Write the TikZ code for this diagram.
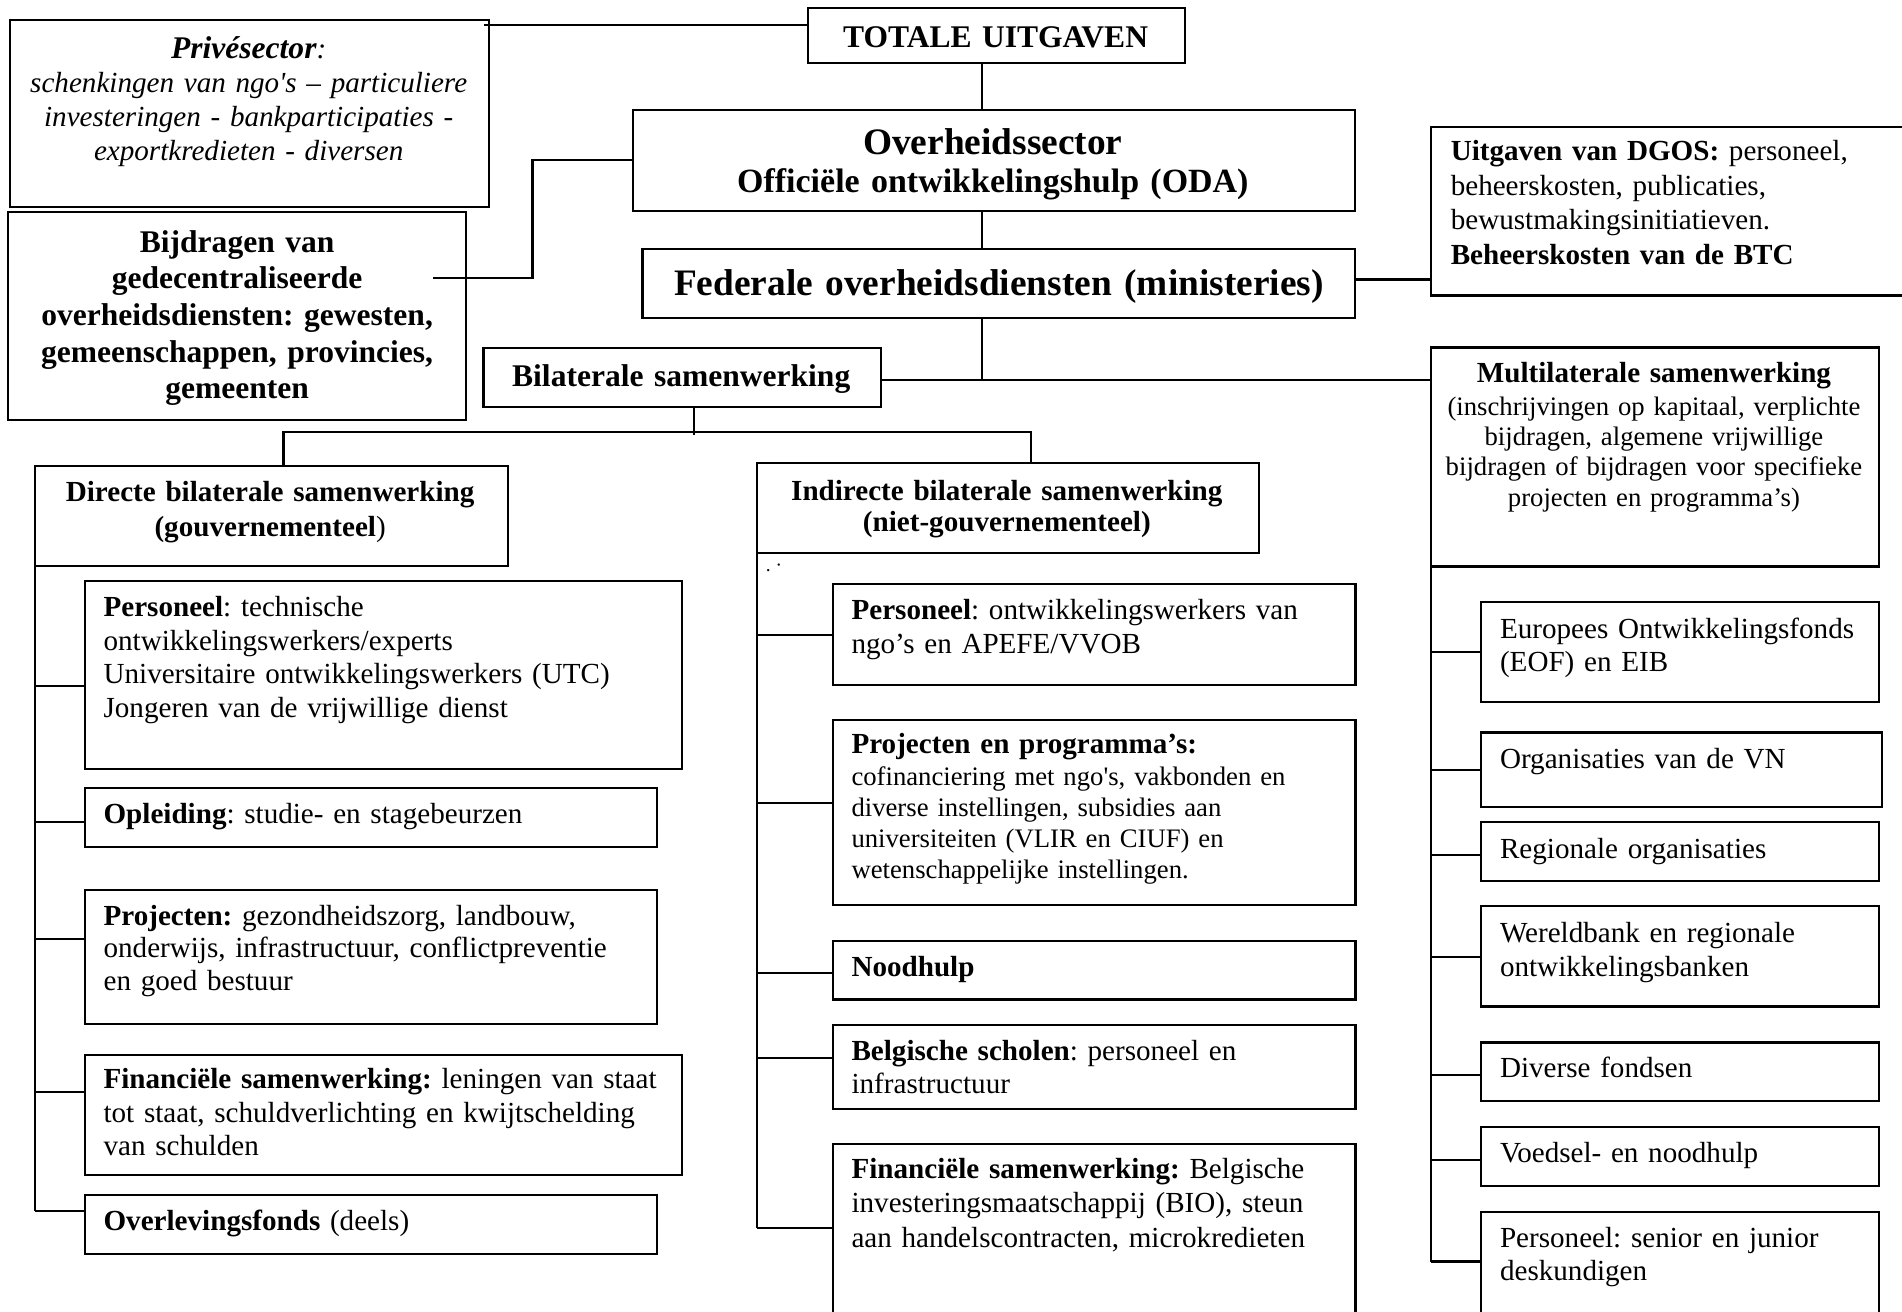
\documentclass[tikz,border=0pt]{standalone}
\usepackage{fontspec}
\setmainfont{Liberation Serif}
\usetikzlibrary{calc}
\newcommand\fsz[2]{\fontsize{#1}{#2}\selectfont}
\newcommand\bx[5]{\node[boxst, minimum width={(#4-#2)*0.5pt}, minimum height={(#5-#3)*0.5pt}] (#1) at (#2,#3) {};}
\tikzset{
  boxst/.style={draw, line width=0.9pt, inner sep=0pt, outer sep=0pt, anchor=north west},
  con/.style={line width=0.9pt},
  lt/.style={inner sep=0pt, outer sep=0pt, anchor=base west, align=left, text width=320pt, execute at begin node=\frenchspacing},
  ct/.style={inner sep=0pt, outer sep=0pt, anchor=base, align=center, text width=#1, execute at begin node=\frenchspacing},
}
\begin{document}
\frenchspacing
\begin{tikzpicture}[x=0.5pt, y=-0.5pt]
\useasboundingbox (0,0) rectangle (1568,1081);
\clip (0,0) rectangle (1568,1081);
% boxes
\bx{priv}{8.2}{16.5}{403.3}{170.4}
\bx{bij}{6.6}{174.5}{383.9}{346.2}
\bx{tot}{665.8}{6.9}{976.8}{52.2}
\bx{ov}{521.5}{90.7}{1117.2}{173.7}
\bx{fed}{529.6}{205.3}{1117.2}{262.4}
\bx{uit}{1179.6}{104.8}{1620}{243.6}
\bx{bil}{398.6}{286.6}{726.5}{335.3}
\bx{mul}{1179.6}{286.5}{1548.8}{467}
\bx{dir}{28.7}{384.2}{418.5}{466.6}
\bx{ind}{624}{381.5}{1038}{456}
\bx{dp}{69.9}{479}{562}{634}
\bx{dop}{69.9}{649.9}{541.7}{698.5}
\bx{dpr}{69.9}{733.7}{541.7}{844}
\bx{dfi}{69.9}{869.7}{562}{968.7}
\bx{dov}{69.9}{985}{541.7}{1034}
\bx{ip}{686.4}{481.6}{1117.4}{564.7}
\bx{ipr}{686.4}{593.6}{1117.4}{746}
\bx{ino}{686.4}{775.5}{1117.4}{823.9}
\bx{ibe}{686.4}{845.3}{1117.4}{914.3}
\bx{ifi}{686.4}{942.8}{1117.4}{1120}
\bx{meo}{1220.7}{496.2}{1549}{578.8}
\bx{mvn}{1220.7}{603.8}{1551.3}{665.3}
\bx{mre}{1220.7}{677.6}{1549}{726.5}
\bx{mwb}{1220.7}{747.2}{1549}{829.8}
\bx{mdi}{1220.7}{859.4}{1549}{907.8}
\bx{mvo}{1220.7}{929}{1549}{977.8}
\bx{mpe}{1220.7}{998.9}{1549}{1120}
% texts
\node[ct=200pt, font=\fsz{12}{14}\itshape] (privt) at (205,48.5) {{\bfseries\fsz{13}{14}Privésector}:\\schenkingen van ngo\textquotesingle s – particuliere\\investeringen - bankparticipaties -\\exportkredieten - diversen};
\node[ct=200pt, font=\fsz{13}{15.1}\bfseries] (bijt) at (195.5,208) {Bijdragen van\\gedecentraliseerde\\overheidsdiensten: gewesten,\\gemeenschappen, provincies,\\gemeenten};
\node[ct=200pt, font=\fsz{13}{15}\bfseries] (tott) at (820.7,39.3) {TOTALE UITGAVEN};
\node[ct=300pt, font=\fsz{15.4}{16}\bfseries] (ovt1) at (818.5,127) {Overheidssector};
\node[ct=300pt, font=\fsz{14}{16}\bfseries] (ovt2) at (818.5,158.9) {Officiële ontwikkelingshulp (ODA)};
\node[ct=320pt, font=\fsz{15.4}{16}\bfseries] (fedt) at (823.5,243.8) {Federale overheidsdiensten (ministeries)};
\node[lt, font=\fsz{12}{14.2}] (uitt) at (1196,132.5) {\textbf{Uitgaven van DGOS:} personeel,\\beheerskosten, publicaties,\\bewustmakingsinitiatieven.\\\textbf{Beheerskosten van de BTC}};
\node[ct=200pt, font=\fsz{13}{15}\bfseries] (bilt) at (561.6,318.8) {Bilaterale samenwerking};
\node[ct=200pt, font=\fsz{12}{14}\bfseries] (mult) at (1363.5,315.5) {Multilaterale samenwerking};
\node[ct=200pt, font=\fsz{11}{12.5}] (mulb) at (1363.5,342.3) {(inschrijvingen op kapitaal, verplichte\\bijdragen, algemene vrijwillige\\bijdragen of bijdragen voor specifieke\\projecten en programma’s)};
\node[ct=220pt, font=\fsz{12}{14.4}\bfseries] (dirt) at (222.7,413.6) {Directe bilaterale samenwerking\\(gouvernementeel\textmd{)}};
\node[ct=220pt, font=\fsz{12}{13}\bfseries] (indt) at (830,412.2) {Indirecte bilaterale samenwerking\\(niet-gouvernementeel)};
\node[inner sep=0pt, anchor=base west, font=\fsz{8}{9}] (dots) at (631,471) {.~·};
% left column texts
\node[lt, font=\fsz{12}{13.8}] (dpt) at (85.4,508.4) {\textbf{Personeel}: technische\\ontwikkelingswerkers/experts\\Universitaire ontwikkelingswerkers (UTC)\\Jongeren van de vrijwillige dienst};
\node[lt, font=\fsz{12}{13.8}] (dopt) at (85.4,678.8) {\textbf{Opleiding}: studie- en stagebeurzen};
\node[lt, font=\fsz{12}{13.5}] (dprt) at (85.4,762.6) {\textbf{Projecten:} gezondheidszorg, landbouw,\\onderwijs, infrastructuur, conflictpreventie\\en goed bestuur};
\node[lt, font=\fsz{12}{13.9}] (dfit) at (85.4,897.2) {\textbf{Financiële samenwerking:} leningen van staat\\tot staat, schuldverlichting en kwijtschelding\\van schulden};
\node[lt, font=\fsz{12}{13.8}] (dovt) at (85.4,1014) {\textbf{Overlevingsfonds} (deels)};
% middle column texts
\node[lt, font=\fsz{12}{13.8}] (ipt) at (702,511) {\textbf{Personeel}: ontwikkelingswerkers van\\ngo’s en APEFE/VVOB};
\node[lt, font=\fsz{12}{13.8}\bfseries] (iprh) at (702,621) {Projecten en programma’s:};
\node[lt, font=\fsz{11}{12.8}] (iprt) at (702,647.5) {cofinanciering met ngo\textquotesingle s, vakbonden en\\diverse instellingen, subsidies aan\\universiteiten (VLIR en CIUF) en\\wetenschappelijke instellingen.};
\node[lt, font=\fsz{12}{13.8}\bfseries] (inot) at (702,805.2) {Noodhulp};
\node[lt, font=\fsz{12}{13.7}] (ibet) at (702,873.9) {\textbf{Belgische scholen}: personeel en\\infrastructuur};
\node[lt, font=\fsz{12}{14.2}] (ifit) at (702,971.4) {\textbf{Financiële samenwerking:} Belgische\\investeringsmaatschappij (BIO), steun\\aan handelscontracten, microkredieten};
% right column texts
\node[lt, font=\fsz{12}{13.5}] (meot) at (1236.6,526.2) {Europees Ontwikkelingsfonds\\(EOF) en EIB};
\node[lt, font=\fsz{12}{13.8}] (mvnt) at (1236.6,633.8) {Organisaties van de VN};
\node[lt, font=\fsz{12}{13.8}] (mret) at (1236.6,707.6) {Regionale organisaties};
\node[lt, font=\fsz{12}{14}] (mwbt) at (1236.6,776.8) {Wereldbank en regionale\\ontwikkelingsbanken};
\node[lt, font=\fsz{12}{13.8}] (mdit) at (1236.6,888.6) {Diverse fondsen};
\node[lt, font=\fsz{12}{13.8}] (mvot) at (1236.6,958.6) {Voedsel- en noodhulp};
\node[lt, font=\fsz{12}{13.45}] (mpet) at (1236.6,1028.5) {Personeel: senior en junior\\deskundigen};
% connectors
\coordinate (spx) at (809.3,0);
\coordinate (hy) at (0,313.5);
\draw[con] ($(priv.north east)+(-4,4.1)$) coordinate (pc) -- (pc -| tot.west);
\draw[con] (spx |- tot.south) -- (spx |- ov.north);
\draw[con] (spx |- ov.south) -- (spx |- fed.north);
\draw[con] (spx |- fed.south) -- (spx |- hy);
\draw[con] (bil.east |- hy) -- (mul.west |- hy);
\draw[con] ($(fed.east)+(0,-3.5)$) coordinate (fc) -- (fc -| uit.west);
\draw[con] ($(bij.east)+(-27,-30.9)$) -- ++(82.1,0) |- (ov.west);
\coordinate (bjl) at (233.7,356.4);
\coordinate (bjr) at (850,356.4);
\draw[con] ($(bil.south)+(9.35,0)$) coordinate (bs) -- ($(bs |- bjl)+(0,2)$);
\draw[con] (bjl |- dir.north) -- (bjl) -- (bjr) -- (bjr |- ind.north);
% direct branches
\foreach \n/\o in {dp/8.8, dop/3.2, dpr/-14.9, dfi/-19.2, dov/-11.4}
  {\draw[con] ($(\n.west)+(0,\o)$) coordinate (tmp) -- (tmp -| dir.west);}
\path ($(dov.west)+(0,-11.4)$) coordinate (dend);
\draw[con] (dir.south west) -- (dend -| dir.west);
% indirect branches
\foreach \n/\o in {ip/0.4, ipr/-7.5, ino/2.7, ibe/-7.3, ifi/-19.3}
  {\draw[con] ($(\n.west)+(0,\o)$) coordinate (tmp) -- (tmp -| ind.west);}
\path ($(ifi.west)+(0,-19.3)$) coordinate (iend);
\draw[con] (ind.south west) -- (iend -| ind.west);
% multilateral branches
\foreach \n/\o in {meo/0.2, mvn/0.4, mre/2.9, mwb/0.2, mdi/2.7, mvo/3.2, mpe/-19.45}
  {\draw[con] ($(\n.west)+(0,\o)$) coordinate (tmp) -- (tmp -| mul.west);}
\path ($(mpe.west)+(0,-19.45)$) coordinate (mend);
\draw[con] (mul.south west) -- (mend -| mul.west);
\end{tikzpicture}
\end{document}
